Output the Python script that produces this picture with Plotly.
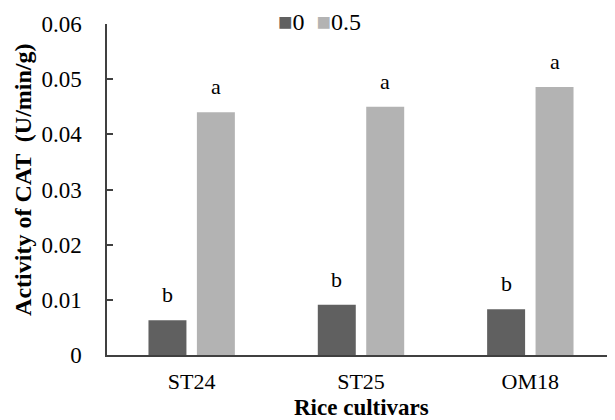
import plotly.graph_objects as go

cultivars = ["ST24", "ST25", "OM18"]
series_names = ["0", "0.5"]
values_0 = [0.0063, 0.0091, 0.0083]
values_05 = [0.0440, 0.0450, 0.0486]
letters_0 = ["b", "b", "b"]
letters_05 = ["a", "a", "a"]
y_ticks = [0, 0.01, 0.02, 0.03, 0.04, 0.05, 0.06]
y_tick_labels = ["0", "0.01", "0.02", "0.03", "0.04", "0.05", "0.06"]
x_title = "Rice cultivars"
y_title = "Activity of CAT  (U/min/g)"

FONT = "Liberation Serif"
DARK = "#606060"
LIGHT = "#b3b3b3"
COLORS = [DARK, LIGHT]

fig = go.Figure()
fig.add_trace(go.Bar(name=series_names[0], x=cultivars, y=values_0,
                     marker=dict(color=DARK, line=dict(width=0))))
fig.add_trace(go.Bar(name=series_names[1], x=cultivars, y=values_05,
                     marker=dict(color=LIGHT, line=dict(width=0))))

# significance letters
for vals, letters, shift in [(values_0, letters_0, -24.25), (values_05, letters_05, 24.25)]:
    for c, v, t in zip(cultivars, vals, letters):
        fig.add_annotation(x=c, y=v, text=t, showarrow=False, xshift=shift,
                           yanchor="bottom", yshift=11,
                           font=dict(family=FONT, size=22, color="#000000"))

# legend drawn as text with coloured square glyphs
legend_text = "&#160;&#160;".join(
    f"<span style='color:{col}'>&#9632;</span>{name}" for col, name in zip(COLORS, series_names))
fig.add_annotation(xref="paper", yref="paper", x=0.418, y=1.0, xanchor="center", yanchor="middle",
                   yshift=2, text=legend_text, showarrow=False,
                   font=dict(family=FONT, size=24, color="#000000"))

# axis titles
fig.add_annotation(xref="paper", yref="paper", x=0.5, y=0, xanchor="center", yanchor="top",
                   yshift=-39.5, borderpad=0, borderwidth=0,
                   text=f"<b>{x_title}</b>", showarrow=False,
                   font=dict(family=FONT, size=23, color="#000000"))
fig.add_annotation(xref="paper", yref="paper", x=0, y=0.529, xanchor="center", yanchor="middle",
                   xshift=-84, textangle=-90, text=f"<b>{y_title}</b>", showarrow=False,
                   font=dict(family=FONT, size=24, color="#000000"))

# page body has an 8px margin, so the figure is sized to fill the rest of the window
fig.update_layout(
    width=607, height=412,
    margin=dict(l=99, r=0, t=16, b=65),
    paper_bgcolor="white", plot_bgcolor="white",
    barmode="group", bargap=0.428, bargroupgap=0.216,
    font=dict(family=FONT, size=20, color="#000000"),
    showlegend=False,
)
fig.update_xaxes(showline=True, linecolor="#404040", linewidth=2, ticks="",
                 automargin=False, ticklabelstandoff=6,
                 tickfont=dict(family=FONT, size=22), showgrid=False)
fig.update_yaxes(range=[0, 0.06], tickvals=y_ticks, ticktext=y_tick_labels,
                 automargin=False,
                 showline=True, linecolor="#404040", linewidth=1.5,
                 ticks="inside", ticklen=6, tickcolor="#404040", tickwidth=1.5,
                 ticklabelstandoff=19,
                 tickfont=dict(family=FONT, size=23), showgrid=False, zeroline=False)

fig.write_html("out.html")
